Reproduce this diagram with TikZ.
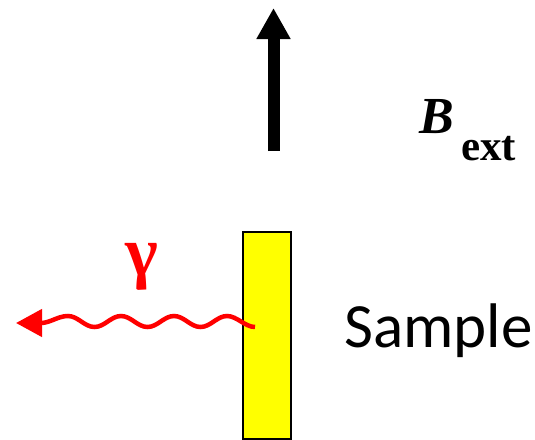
\documentclass[tikz,border=0pt]{standalone}
\usepackage{fontspec}
\setmainfont{Liberation Serif}
\newfontfamily\carlito{Carlito}
\usetikzlibrary{arrows.meta}
\definecolor{sampleyellow}{RGB}{255,255,0}
\definecolor{photonred}{RGB}{255,0,0}
\tikzset{
  samplebox/.style={draw=black, line width=1.6pt, fill=sampleyellow},
  fieldarrow/.style={line width=12pt, -{Triangle[length=31pt,width=32pt]}},
  photon/.style={draw=photonred, line width=4.5pt, -{Triangle[length=26pt,width=27pt]}},
}
\begin{document}
\begin{tikzpicture}[x=1pt,y=-1pt]
\useasboundingbox (0,0) rectangle (535,439);
% field arrow
\coordinate (fbot) at (273.5,151);
\coordinate (ftop) at (273.5,8);
\draw[fieldarrow] (fbot) -- (ftop);
% B_ext label
\node[anchor=base west, inner sep=0pt, font=\fontsize{52}{52}\selectfont\bfseries\itshape] (B) at (419,133) {B};
\node[anchor=base west, inner sep=0pt, font=\fontsize{43}{43}\selectfont\bfseries] (ext) at (461,160) {ext};
% sample
\node[samplebox, minimum width=48pt, minimum height=207pt, inner sep=0pt, anchor=north west] (sample) at (242,231) {};
\node[anchor=base west, inner sep=0pt, font=\carlito\fontsize{63}{63}\selectfont] (samplelabel) at (344,347) {Sample};
% photon
\coordinate (pstart) at (255,327);
\coordinate (pend) at (16,323);
\draw[photon] (pstart)
  .. controls (245,327) and (237,316) .. (227,316)
  .. controls (217,316) and (210.5,327) .. (200.5,327)
  .. controls (190.5,327) and (184,316) .. (174,316)
  .. controls (164,316) and (157.5,327) .. (147.5,327)
  .. controls (137.5,327) and (131,316) .. (121,316)
  .. controls (111,316) and (104.5,327) .. (94.5,327)
  .. controls (84.5,327) and (78,316) .. (68,316)
  .. controls (58,316) and (50,323) .. (pend);
\node[inner sep=0pt, text=photonred, font=\fontsize{70}{70}\selectfont\bfseries] (gamma) at (142,267) {γ};
\end{tikzpicture}
\end{document}
